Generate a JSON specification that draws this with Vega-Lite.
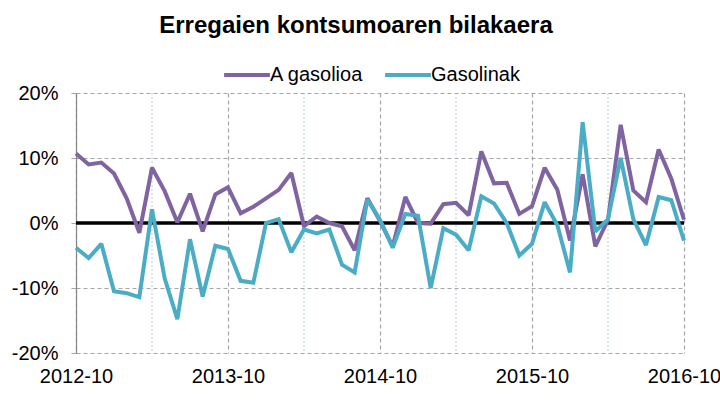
{
  "$schema": "https://vega.github.io/schema/vega-lite/v6.json",
  "autosize": "none",
  "width": 608,
  "height": 260,
  "padding": {"left": 76, "top": 93, "right": 36, "bottom": 55},
  "background": "white",
  "title": {
    "text": "Erregaien kontsumoaren bilakaera",
    "font": "Liberation Sans",
    "fontSize": 24,
    "fontWeight": "bold",
    "color": "black",
    "anchor": "middle",
    "dx": -24,
    "offset": 12
  },
  "config": {
    "view": {"stroke": null},
    "font": "Liberation Sans"
  },
  "datasets": {
    "series": [
      {"month": "2012-10", "A gasolioa": 10.7, "Gasolinak": -3.8},
      {"month": "2012-11", "A gasolioa": 9.0, "Gasolinak": -5.4},
      {"month": "2012-12", "A gasolioa": 9.3, "Gasolinak": -3.2},
      {"month": "2013-01", "A gasolioa": 7.6, "Gasolinak": -10.5},
      {"month": "2013-02", "A gasolioa": 3.8, "Gasolinak": -10.8},
      {"month": "2013-03", "A gasolioa": -1.5, "Gasolinak": -11.4},
      {"month": "2013-04", "A gasolioa": 8.5, "Gasolinak": 2.1},
      {"month": "2013-05", "A gasolioa": 4.9, "Gasolinak": -8.5},
      {"month": "2013-06", "A gasolioa": 0.1, "Gasolinak": -14.8},
      {"month": "2013-07", "A gasolioa": 4.5, "Gasolinak": -2.5},
      {"month": "2013-08", "A gasolioa": -1.3, "Gasolinak": -11.3},
      {"month": "2013-09", "A gasolioa": 4.4, "Gasolinak": -3.5},
      {"month": "2013-10", "A gasolioa": 5.5, "Gasolinak": -4.0},
      {"month": "2013-11", "A gasolioa": 1.5, "Gasolinak": -8.9},
      {"month": "2013-12", "A gasolioa": 2.5, "Gasolinak": -9.2},
      {"month": "2014-01", "A gasolioa": 3.8, "Gasolinak": 0.0},
      {"month": "2014-02", "A gasolioa": 5.1, "Gasolinak": 0.6},
      {"month": "2014-03", "A gasolioa": 7.7, "Gasolinak": -4.5},
      {"month": "2014-04", "A gasolioa": -0.5, "Gasolinak": -1.0},
      {"month": "2014-05", "A gasolioa": 1.0, "Gasolinak": -1.6},
      {"month": "2014-06", "A gasolioa": 0.0, "Gasolinak": -1.0},
      {"month": "2014-07", "A gasolioa": -0.5, "Gasolinak": -6.4},
      {"month": "2014-08", "A gasolioa": -4.2, "Gasolinak": -7.6},
      {"month": "2014-09", "A gasolioa": 3.8, "Gasolinak": 3.6},
      {"month": "2014-10", "A gasolioa": 0.3, "Gasolinak": 0.5},
      {"month": "2014-11", "A gasolioa": -3.6, "Gasolinak": -3.8},
      {"month": "2014-12", "A gasolioa": 4.0, "Gasolinak": 1.4},
      {"month": "2015-01", "A gasolioa": 0.0, "Gasolinak": 1.1},
      {"month": "2015-02", "A gasolioa": -0.1, "Gasolinak": -10.0},
      {"month": "2015-03", "A gasolioa": 2.9, "Gasolinak": -0.8},
      {"month": "2015-04", "A gasolioa": 3.1, "Gasolinak": -1.8},
      {"month": "2015-05", "A gasolioa": 1.2, "Gasolinak": -4.2},
      {"month": "2015-06", "A gasolioa": 11.0, "Gasolinak": 4.1},
      {"month": "2015-07", "A gasolioa": 6.1, "Gasolinak": 3.0},
      {"month": "2015-08", "A gasolioa": 6.2, "Gasolinak": 0.0},
      {"month": "2015-09", "A gasolioa": 1.4, "Gasolinak": -5.0},
      {"month": "2015-10", "A gasolioa": 2.6, "Gasolinak": -3.2},
      {"month": "2015-11", "A gasolioa": 8.5, "Gasolinak": 3.2},
      {"month": "2015-12", "A gasolioa": 5.1, "Gasolinak": -0.3},
      {"month": "2016-01", "A gasolioa": -2.7, "Gasolinak": -7.6},
      {"month": "2016-02", "A gasolioa": 7.5, "Gasolinak": 15.5},
      {"month": "2016-03", "A gasolioa": -3.6, "Gasolinak": -1.3},
      {"month": "2016-04", "A gasolioa": 0.5, "Gasolinak": 0.6},
      {"month": "2016-05", "A gasolioa": 15.1, "Gasolinak": 10.0},
      {"month": "2016-06", "A gasolioa": 5.0, "Gasolinak": 0.6},
      {"month": "2016-07", "A gasolioa": 3.2, "Gasolinak": -3.4},
      {"month": "2016-08", "A gasolioa": 11.3, "Gasolinak": 4.0},
      {"month": "2016-09", "A gasolioa": 6.8, "Gasolinak": 3.5},
      {"month": "2016-10", "A gasolioa": 0.5, "Gasolinak": -2.7}
    ],
    "halfyear": [
      {"month": "2013-04"},
      {"month": "2014-04"},
      {"month": "2015-04"},
      {"month": "2016-04"}
    ],
    "zero": [{"value": 0}]
  },
  "layer": [
    {
      "data": {"name": "halfyear"},
      "mark": {"type": "rule", "color": "#B9CDE5", "strokeWidth": 1, "strokeDash": [2, 2]},
      "encoding": {
        "x": {"field": "month", "type": "ordinal"}
      }
    },
    {
      "data": {"name": "zero"},
      "mark": {"type": "rule", "color": "black", "strokeWidth": 3.5},
      "encoding": {
        "y": {"field": "value", "type": "quantitative"}
      }
    },
    {
      "data": {"name": "series"},
      "transform": [
        {"fold": ["A gasolioa", "Gasolinak"], "as": ["serie", "value"]}
      ],
      "mark": {"type": "line", "strokeWidth": 4, "strokeJoin": "miter", "strokeMiterLimit": 2},
      "encoding": {
        "x": {
          "field": "month",
          "type": "ordinal",
          "sort": "ascending",
          "scale": {"type": "point", "padding": 0},
          "axis": {
            "title": null,
            "values": ["2012-10", "2013-10", "2014-10", "2015-10", "2016-10"],
            "labelAngle": 0,
            "labelAlign": "center",
            "labelFlush": false,
            "labelBound": false,
            "labelOverlap": false,
            "labelFont": "Liberation Sans",
            "labelFontSize": 20,
            "labelColor": "black",
            "labelPadding": 23,
            "ticks": false,
            "domain": false,
            "grid": true,
            "gridColor": "#A6A6A6",
            "gridDash": [4, 3],
            "gridWidth": 1.2
          }
        },
        "y": {
          "field": "value",
          "type": "quantitative",
          "scale": {"domain": [-20, 20], "nice": false, "zero": false},
          "axis": {
            "title": null,
            "values": [-20, -10, 0, 10, 20],
            "labelExpr": "datum.value + '%'",
            "labelFont": "Liberation Sans",
            "labelFontSize": 20,
            "labelColor": "black",
            "labelPadding": 13,
            "labelFlush": false,
            "tickSize": 5,
            "tickColor": "#A6A6A6",
            "domain": true,
            "domainColor": "#868686",
            "domainWidth": 1.2,
            "grid": true,
            "gridColor": "#A6A6A6",
            "gridDash": [4, 3],
            "gridWidth": 1.2
          }
        },
        "color": {
          "field": "serie",
          "type": "nominal",
          "scale": {"domain": ["A gasolioa", "Gasolinak"], "range": ["#8064A2", "#4BACC6"]},
          "legend": {
            "title": null,
            "orient": "none",
            "direction": "horizontal",
            "legendX": 146,
            "legendY": -43,
            "symbolType": "stroke",
            "symbolSize": 2100,
            "symbolStrokeWidth": 4,
            "labelFont": "Liberation Sans",
            "labelFontSize": 20,
            "labelColor": "black",
            "labelOffset": -2,
            "columnPadding": 13
          }
        }
      }
    }
  ]
}
